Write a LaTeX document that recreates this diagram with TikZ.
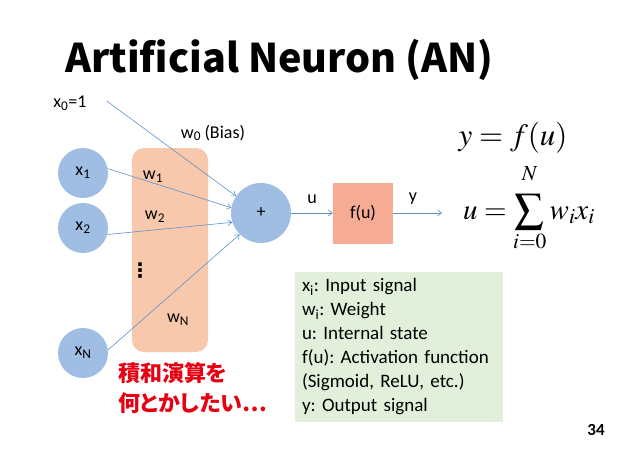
\documentclass[tikz,border=0pt]{standalone}
\usepackage{mathptmx}
\usepackage[no-math]{fontspec}
\setmainfont{Carlito}[WordSpace=0.85]
\newfontfamily\jpfont{Noto Sans CJK JP}[RawFeature=+palt]
\newfontfamily\symfont{DejaVu Sans}
\frenchspacing
\hyphenpenalty=10000
\usetikzlibrary{positioning}
\usetikzlibrary{arrows.meta}
\definecolor{circblue}{RGB}{160,190,228}
\definecolor{wfill}{RGB}{247,200,171}
\definecolor{ffill}{RGB}{246,172,148}
\definecolor{notefill}{RGB}{226,239,218}
\definecolor{linkblue}{RGB}{95,145,200}
\definecolor{jpred}{RGB}{230,0,18}
\tikzset{
    incircle/.style = {circle, fill=circblue, minimum size=50pt, inner sep=0pt, font=\fontsize{18}{20}\selectfont},
    sumcircle/.style = {circle, fill=circblue, minimum size=60pt, inner sep=0pt, font=\fontsize{18}{20}\selectfont},
    funcbox/.style = {rectangle, fill=ffill, minimum width=60pt, minimum height=61pt, inner sep=0pt, font=\fontsize{18}{20}\selectfont},
    wpanel/.style = {rectangle, rounded corners=12pt, fill=wfill, minimum width=76pt, minimum height=204pt},
    notebox/.style = {rectangle, fill=notefill, minimum width=208pt, minimum height=150pt, text width=194pt, inner xsep=7pt, inner ysep=2pt, align=left, font=\fontsize{19}{24}\selectfont},
    lbl/.style = {inner sep=0pt, font=\fontsize{18}{20}\selectfont},
    edgen/.style = {-{Straight Barb[length=4pt,width=6pt]}, draw=linkblue, line width=0.6pt},
}

\begin{document}
\begin{tikzpicture}[x=1pt, y=-1pt]
  \useasboundingbox (0,0) rectangle (638,452);

  % title
  \node[anchor=base west, inner sep=0pt, font=\jpfont\bfseries\fontsize{39.5}{44}\selectfont] (title) at (65,73) {Artificial Neuron (AN)};

  % weight panel
  \node[wpanel] (wp) at (170,250) {};

  % inputs
  \node[lbl] (x0) at (70,103) {x\textsubscript{0}=1};
  \node[incircle] (x1) at (83,173) {x\textsubscript{1}};
  \node[incircle] (x2) at (83,228) {x\textsubscript{2}};
  \node[incircle] (xN) at (83,353) {x\textsubscript{N}};

  \node[sumcircle] (plus) at (261,213) {+};
  \node[funcbox] (fu) at (363,213) {f(u)};
  \coordinate (out) at (442,213);

  % weights
  \node[lbl] (w0) at (213,133) {w\textsubscript{0} (Bias)};
  \node[lbl] (w1) at (153,177) {w\textsubscript{1}};
  \node[lbl] (w2) at (155,217) {w\textsubscript{2}};
  \node[lbl, font=\symfont\bfseries\fontsize{20}{20}\selectfont] (dots) at (140,271) {⋮};
  \node[lbl] (wN) at (178,320) {w\textsubscript{N}};

  % connectors
  \draw[edgen] ([shift={(20pt,2pt)}]x0.east) -- (plus.146);
  \draw[edgen] (x1.10) -- (plus.170);
  \draw[edgen] (x2.-15) -- (plus.198);
  \draw[edgen] (xN.7) -- (plus.225);
  \draw[edgen] (plus) -- (fu);
  \draw[edgen] (fu) -- (out);
  \node[lbl] (ulbl) at (312,199) {u};
  \node[lbl] (ylbl) at (413,199) {y};

  % equations
  \node[inner sep=0pt, font=\fontsize{31}{32}\selectfont] (eqy) at (513,138) {$y = f(u)$};
  \node[inner sep=0pt, font=\fontsize{29}{30}\selectfont, anchor=base] (equ) at (529,219) {$\displaystyle u = \sum_{i=0}^{\raisebox{8pt}{$\scriptstyle N$}} w_i x_i$};

  % notes
  \node[notebox] (notes) at (399,347) {x\textsubscript{i}: Input signal\\
    w\textsubscript{i}: Weight\\
    u: Internal state\\
    f(u): Activation function\\
    (Sigmoid, ReLU, etc.)\\
    y: Output signal};

  \node[anchor=west, inner sep=0pt, align=left, text=jpred, font=\jpfont\bfseries\fontsize{22}{30}\selectfont] (jp) at (118,388) {積和演算を\\何とかしたい…};

  \node[inner sep=0pt, font=\bfseries\fontsize{17}{18}\selectfont] (page) at (596,430) {34};
\end{tikzpicture}
\end{document}
